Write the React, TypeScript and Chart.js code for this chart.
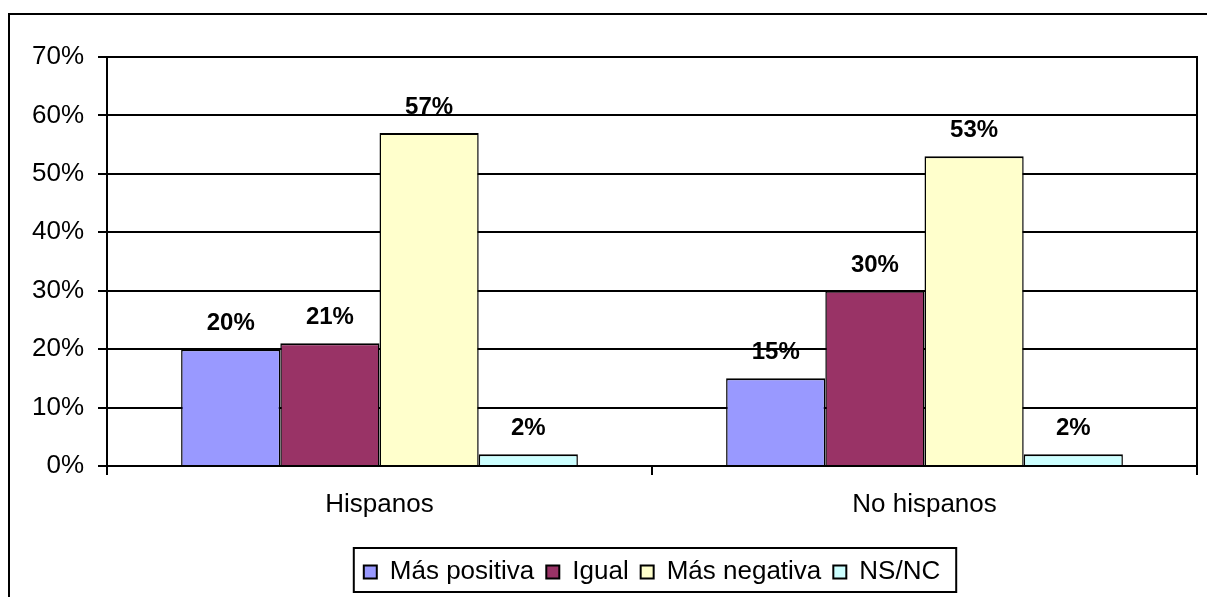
import React, { useEffect, useRef } from "react";
import { Chart, registerables } from "chart.js";

Chart.register(...registerables);

const categories = ["Hispanos", "No hispanos"];
const seriesNames = ["Más positiva", "Igual", "Más negativa", "NS/NC"];
const masPositiva = [20, 15];
const igual = [21, 30];
const masNegativa = [57, 53];
const nsnc = [2, 2];
const seriesColors = ["#9999FF", "#993366", "#FFFFCC", "#CCFFFF"];
const yMax = 70;
const yStep = 10;

const FONT = "Arial, 'Liberation Sans', sans-serif";

const framePlugin = {
  id: "frame",
  beforeDraw(chart: any) {
    const ctx = chart.ctx;
    ctx.save();
    ctx.fillStyle = "#ffffff";
    ctx.fillRect(0, 0, chart.width, chart.height);
    ctx.strokeStyle = "#000";
    ctx.lineWidth = 2;
    ctx.strokeRect(9, 14, chart.width + 20, chart.height + 20);
    ctx.restore();
  },
  afterDraw(chart: any) {
    const ctx = chart.ctx;
    const a = chart.chartArea;
    ctx.save();
    ctx.strokeStyle = "#000";
    ctx.lineWidth = 2;
    ctx.strokeRect(a.left, a.top, a.right - a.left, a.bottom - a.top);
    const lg = chart.legend;
    if (lg && lg.legendHitBoxes && lg.legendHitBoxes.length) {
      let minL = Infinity, maxR = -Infinity;
      lg.legendHitBoxes.forEach((h: any) => {
        minL = Math.min(minL, h.left);
        maxR = Math.max(maxR, h.left + h.width);
      });
      ctx.strokeRect(minL - 10, lg.top + 1, maxR - minL + 26, lg.height - 4);
    }
    ctx.restore();
  },
};

const labelPlugin = {
  id: "valueLabels",
  afterDatasetsDraw(chart: any) {
    const ctx = chart.ctx;
    ctx.save();
    ctx.font = `bold 24px ${FONT}`;
    ctx.fillStyle = "#000";
    ctx.textAlign = "center";
    ctx.textBaseline = "alphabetic";
    chart.data.datasets.forEach((ds: any, i: number) => {
      const meta = chart.getDatasetMeta(i);
      meta.data.forEach((el: any, j: number) => {
        ctx.fillText(`${ds.data[j]}%`, el.x, el.y - 19);
      });
    });
    ctx.restore();
  },
};

export default function App() {
  const ref = useRef<HTMLCanvasElement>(null);
  useEffect(() => {
    if (!ref.current) return;
    const values = [masPositiva, igual, masNegativa, nsnc];
    const chart = new Chart(ref.current, {
      type: "bar",
      data: {
        labels: categories,
        datasets: seriesNames.map((name, i) => ({
          label: name,
          data: values[i],
          backgroundColor: seriesColors[i],
          borderColor: "#000",
          borderWidth: { top: 2, left: 1.5, right: 1.5, bottom: 0 },
          borderSkipped: "start",
          barPercentage: 1,
          categoryPercentage: 0.728,
        })),
      },
      options: {
        responsive: false,
        animation: false,
        devicePixelRatio: 1,
        layout: { padding: { left: 0, top: 57, right: 10, bottom: 2 } },
        plugins: {
          title: { display: false },
          tooltip: { enabled: false },
          legend: {
            position: "bottom",
            fullSize: false,
            labels: {
              font: { family: FONT, size: 26 },
              color: "#000",
              boxWidth: 13,
              boxHeight: 13,
              padding: 12,
              generateLabels: (ch: any) =>
                ch.data.datasets.map((ds: any, i: number) => ({
                  text: ds.label,
                  fillStyle: ds.backgroundColor,
                  strokeStyle: "#000",
                  lineWidth: 2,
                  hidden: false,
                  datasetIndex: i,
                  fontColor: "#000",
                })),
            },
          },
        },
        scales: {
          x: {
            grid: {
              offset: true,
              drawOnChartArea: false,
              drawTicks: true,
              tickLength: 9,
              color: "#000",
              lineWidth: 2,
            },
            border: { display: true, color: "#000", width: 2 },
            ticks: {
              font: { family: FONT, size: 26 },
              color: "#000",
              padding: 14,
            },
            afterFit: (s: any) => {
              s.height = 81;
            },
          },
          y: {
            min: 0,
            max: yMax,
            grid: {
              color: "#000",
              lineWidth: 2,
              drawTicks: true,
              tickLength: 9,
            },
            border: { display: true, color: "#000", width: 2 },
            ticks: {
              stepSize: yStep,
              font: { family: FONT, size: 26 },
              color: "#000",
              padding: 14,
              callback: (v: any) => `${v}%`,
            },
            afterFit: (s: any) => {
              s.width = 107;
            },
          },
        },
      },
      plugins: [framePlugin, labelPlugin],
    });
    return () => chart.destroy();
  }, []);

  return (
    <div
      style={{
        position: "fixed",
        left: 0,
        top: 0,
        width: 1207,
        height: 597,
        overflow: "hidden",
        background: "#fff",
      }}
    >
      <canvas ref={ref} width={1207} height={597} style={{ display: "block" }} />
    </div>
  );
}
